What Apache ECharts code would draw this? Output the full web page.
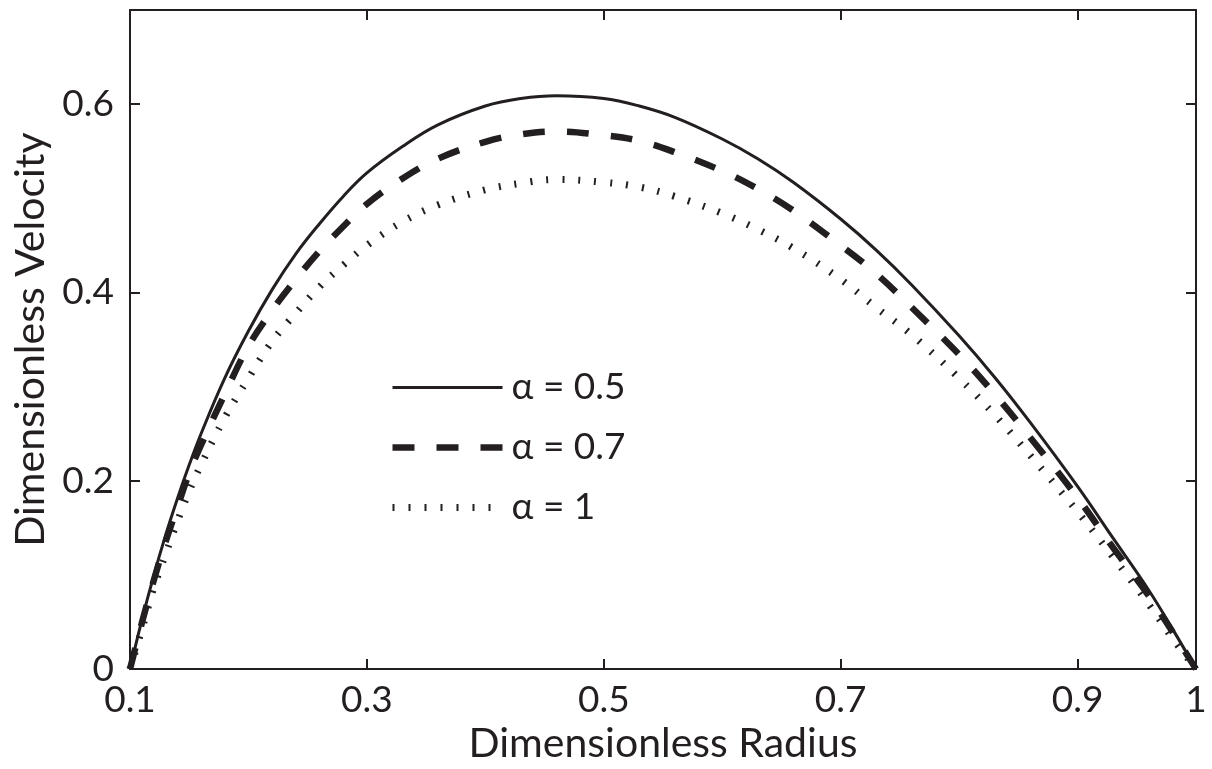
<!DOCTYPE html>
<html>
<head>
<meta charset="utf-8">
<title>Dimensionless Velocity Profiles</title>
<script src="https://cdn.jsdelivr.net/npm/echarts@6/dist/echarts.min.js"></script>
<style>
  html, body { margin: 0; padding: 0; background: #ffffff; }
  #chart { width: 1212px; height: 769px; }
</style>
</head>
<body>
<div id="chart"></div>
<script>
// Radial positions across the annular gap
const radius = [0.1, 0.11, 0.12, 0.13, 0.14, 0.15, 0.16, 0.18, 0.2, 0.22, 0.24, 0.26, 0.28, 0.3,
  0.33, 0.36, 0.4, 0.43, 0.46, 0.5, 0.53, 0.56, 0.6, 0.63, 0.66, 0.7, 0.73, 0.76, 0.8, 0.83,
  0.86, 0.9, 0.93, 0.96, 0.98, 1.0];

// Velocity profiles for each alpha
const velocityA05 = [0, 0.052, 0.099, 0.142, 0.181, 0.217, 0.250, 0.309, 0.359, 0.403, 0.441, 0.473,
  0.502, 0.527, 0.555, 0.578, 0.598, 0.606, 0.609, 0.606, 0.598, 0.586, 0.563, 0.542, 0.517,
  0.478, 0.445, 0.408, 0.354, 0.310, 0.262, 0.194, 0.139, 0.084, 0.043, 0];
const velocityA07 = [0, 0.049, 0.094, 0.135, 0.172, 0.208, 0.238, 0.292, 0.343, 0.381, 0.414, 0.444,
  0.470, 0.494, 0.521, 0.542, 0.560, 0.568, 0.571, 0.567, 0.561, 0.549, 0.529, 0.510, 0.487,
  0.450, 0.420, 0.384, 0.334, 0.292, 0.246, 0.182, 0.129, 0.078, 0.040, 0];
const velocityA1 = [0, 0.042, 0.086, 0.122, 0.157, 0.189, 0.217, 0.267, 0.309, 0.348, 0.378, 0.406,
  0.429, 0.450, 0.475, 0.493, 0.509, 0.516, 0.520, 0.517, 0.512, 0.502, 0.484, 0.467, 0.447,
  0.414, 0.384, 0.355, 0.309, 0.270, 0.227, 0.167, 0.119, 0.069, 0.033, 0];

const seriesNames = ['α = 0.5', 'α = 0.7', 'α = 1'];
const xTicks = [0.1, 0.3, 0.5, 0.7, 0.9, 1];
const yTicks = [0, 0.2, 0.4, 0.6];

const INK = '#231f20';
const FONT = 'Lato';

function toPairs(xs, ys) {
  return xs.map((x, i) => [x, ys[i]]);
}

const chart = echarts.init(document.getElementById('chart'), null, { renderer: 'canvas' });

const frameAxis = {
  axisLine: { show: true, onZero: false, lineStyle: { color: INK, width: 2 } },
  axisTick: { show: true, inside: true, length: 10, lineStyle: { color: INK, width: 2 } },
  splitLine: { show: false }
};

const styles = [
  { width: 3, type: 'solid', cap: 'butt' },
  { width: 6.5, type: [22, 22], cap: 'butt' },
  { width: 7, type: [2, 14], cap: 'butt' }
];
const profiles = [velocityA05, velocityA07, velocityA1];

// legend keys show the line pattern only, without a marker
const hiddenMarker = { color: 'rgba(0,0,0,0)', borderColor: 'rgba(0,0,0,0)', borderWidth: 0, opacity: 0 };

chart.setOption({
  backgroundColor: '#ffffff',
  animation: false,
  grid: { left: 130, right: 16, top: 10, bottom: 93 },
  legend: {
    orient: 'vertical',
    left: 384,
    top: 364,
    padding: 5,
    itemWidth: 110,
    itemHeight: 32,
    itemGap: 23,
    selectedMode: false,
    itemStyle: hiddenMarker,
    textStyle: { fontFamily: FONT, fontSize: 37, color: INK, padding: [0, 0, 0, 4] },
    data: seriesNames.map((name, i) => ({
      name,
      itemStyle: hiddenMarker,
      lineStyle: { width: styles[i].width, color: INK, type: styles[i].type, cap: 'butt' }
    }))
  },
  xAxis: [
    Object.assign({}, frameAxis, {
      type: 'value', min: 0.1, max: 1, position: 'bottom',
      name: 'Dimensionless Radius', nameLocation: 'middle', nameGap: 46,
      nameTextStyle: { fontFamily: FONT, fontSize: 41, color: INK },
      axisTick: Object.assign({}, frameAxis.axisTick, { customValues: xTicks }),
      axisLabel: { customValues: xTicks, fontFamily: FONT, fontSize: 37, color: INK, margin: 12 }
    }),
    Object.assign({}, frameAxis, {
      type: 'value', min: 0.1, max: 1, position: 'top',
      axisTick: Object.assign({}, frameAxis.axisTick, { customValues: xTicks }),
      axisLabel: { show: false }
    })
  ],
  yAxis: [
    Object.assign({}, frameAxis, {
      type: 'value', min: 0, max: 0.7, position: 'left',
      name: 'Dimensionless Velocity', nameLocation: 'middle', nameGap: 78,
      nameTextStyle: { fontFamily: FONT, fontSize: 41, color: INK },
      axisTick: Object.assign({}, frameAxis.axisTick, { customValues: yTicks }),
      axisLabel: { customValues: yTicks, fontFamily: FONT, fontSize: 37, color: INK, margin: 16 }
    }),
    Object.assign({}, frameAxis, {
      type: 'value', min: 0, max: 0.7, position: 'right',
      axisTick: Object.assign({}, frameAxis.axisTick, { customValues: yTicks }),
      axisLabel: { show: false }
    })
  ],
  series: profiles.map((vals, i) => ({
    name: seriesNames[i],
    type: 'line',
    xAxisIndex: 0,
    yAxisIndex: 0,
    data: toPairs(radius, vals),
    smooth: 0.4,
    symbol: 'none',
    showSymbol: false,
    silent: true,
    lineStyle: Object.assign({ color: INK }, styles[i]),
    itemStyle: { color: INK }
  }))
});
</script>
</body>
</html>
